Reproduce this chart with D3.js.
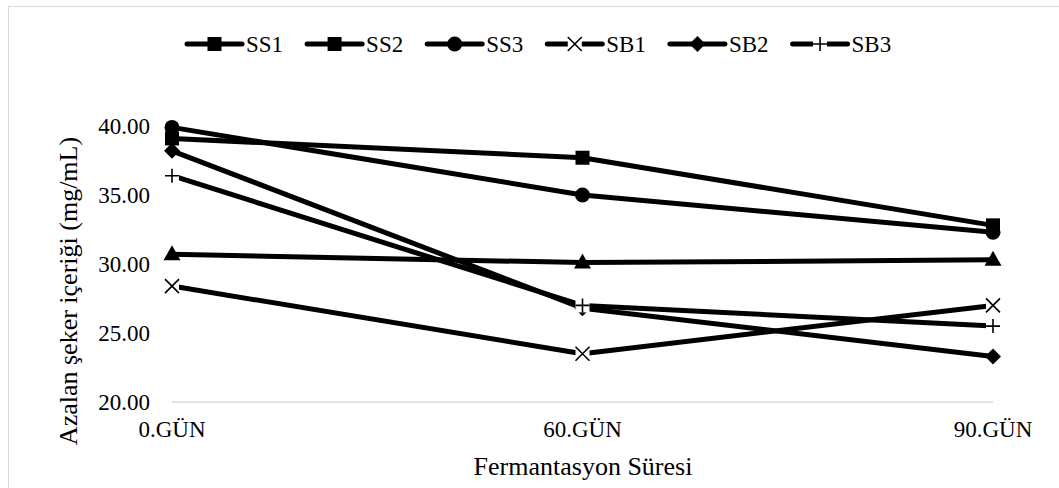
<!DOCTYPE html>
<html>
<head>
<meta charset="utf-8">
<script src="https://cdn.jsdelivr.net/npm/d3@7.9.0/dist/d3.min.js"></script>
<style>
  body { margin: 0; background: #fff; }
  text { font-family: 'Liberation Serif', 'Times New Roman', serif; fill: #000; }
</style>
</head>
<body>
<svg id="chart" width="1059" height="488"></svg>
<script>
const days = ['0.GÜN', '60.GÜN', '90.GÜN'];
const yTicks = [20, 25, 30, 35, 40];

const ss1 = [30.7, 30.1, 30.3];
const ss2 = [39.1, 37.7, 32.8];
const ss3 = [39.9, 35.0, 32.3];
const sb1 = [28.4, 23.5, 27.0];
const sb2 = [38.2, 26.8, 23.3];
const sb3 = [36.4, 27.0, 25.5];

// plot marker and legend marker (SS1 shows a square in the legend, triangles on the line)
const series = [
  { name: 'SS1', values: ss1, marker: 'triangle', legendMarker: 'square' },
  { name: 'SS2', values: ss2, marker: 'square', legendMarker: 'square' },
  { name: 'SS3', values: ss3, marker: 'circle', legendMarker: 'circle' },
  { name: 'SB1', values: sb1, marker: 'x', legendMarker: 'x' },
  { name: 'SB2', values: sb2, marker: 'diamond', legendMarker: 'diamond' },
  { name: 'SB3', values: sb3, marker: 'plus', legendMarker: 'plus' },
];

const svg = d3.select('#chart');

svg.append('rect')
  .attr('x', 8.5).attr('y', 6.5)
  .attr('width', 1070).attr('height', 500)
  .attr('fill', 'none')
  .attr('stroke', '#d9d9d9')
  .attr('stroke-width', 1);

const x = d3.scalePoint().domain(days).range([172, 993]);
const y = d3.scaleLinear().domain([20, 40]).range([402, 126]);

function drawMarker(g, type, cx, cy) {
  if (type === 'square') {
    g.append('rect').attr('x', cx - 7).attr('y', cy - 7)
      .attr('width', 14).attr('height', 14).attr('fill', '#000');
  } else if (type === 'circle') {
    g.append('circle').attr('cx', cx).attr('cy', cy).attr('r', 7.5).attr('fill', '#000');
  } else if (type === 'triangle') {
    g.append('path')
      .attr('d', `M${cx},${cy - 9}L${cx + 8.5},${cy + 6}L${cx - 8.5},${cy + 6}Z`)
      .attr('fill', '#000');
  } else if (type === 'diamond') {
    g.append('path')
      .attr('d', `M${cx},${cy - 8}L${cx + 8},${cy}L${cx},${cy + 8}L${cx - 8},${cy}Z`)
      .attr('fill', '#000');
  } else if (type === 'x' || type === 'plus') {
    g.append('rect').attr('x', cx - 7).attr('y', cy - 7)
      .attr('width', 14).attr('height', 14).attr('fill', '#fff');
    const r = 7;
    const d = type === 'x'
      ? `M${cx - r},${cy - r}L${cx + r},${cy + r}M${cx + r},${cy - r}L${cx - r},${cy + r}`
      : `M${cx - r},${cy}L${cx + r},${cy}M${cx},${cy - r}L${cx},${cy + r}`;
    g.append('path')
      .attr('d', d)
      .attr('stroke', '#000').attr('stroke-width', 1.6).attr('fill', 'none');
  }
}

// bottom axis line
svg.append('line')
  .attr('x1', x(days[0])).attr('x2', x(days[2]))
  .attr('y1', y(20)).attr('y2', y(20))
  .attr('stroke', '#d9d9d9').attr('stroke-width', 1.5);

// y tick labels
svg.append('g').selectAll('text')
  .data(yTicks)
  .join('text')
  .attr('x', 150)
  .attr('y', d => y(d) + 7.5)
  .attr('text-anchor', 'end')
  .attr('font-size', 23)
  .text(d => d.toFixed(2));

// x tick labels
svg.append('g').selectAll('text')
  .data(days)
  .join('text')
  .attr('x', d => x(d))
  .attr('y', 437)
  .attr('text-anchor', 'middle')
  .attr('font-size', 23)
  .text(d => d);

svg.append('text')
  .attr('x', 583).attr('y', 475)
  .attr('text-anchor', 'middle')
  .attr('font-size', 26)
  .text('Fermantasyon Süresi');

svg.append('text')
  .attr('transform', `translate(77,291) rotate(-90)`)
  .attr('text-anchor', 'middle')
  .attr('font-size', 26)
  .text('Azalan şeker içeriği (mg/mL)');

const line = d3.line().x((d, i) => x(days[i])).y(d => y(d));

const plot = svg.append('g');
series.forEach(s => {
  plot.append('path')
    .attr('d', line(s.values))
    .attr('fill', 'none')
    .attr('stroke', '#000')
    .attr('stroke-width', 5)
    .attr('stroke-linejoin', 'round');
});
series.forEach(s => {
  const g = plot.append('g');
  s.values.forEach((v, i) => drawMarker(g, s.marker, x(days[i]), y(v)));
});

// legend
const legend = svg.append('g');
const legendY = 44;
let lx = 187;
series.forEach(s => {
  const g = legend.append('g');
  g.append('line')
    .attr('x1', lx).attr('x2', lx + 55)
    .attr('y1', legendY).attr('y2', legendY)
    .attr('stroke', '#000').attr('stroke-width', 5).attr('stroke-linecap', 'round');
  drawMarker(g, s.legendMarker, lx + 27.5, legendY);
  const t = g.append('text')
    .attr('x', lx + 59).attr('y', legendY + 8)
    .attr('font-size', 23)
    .text(s.name);
  lx += 59 + t.node().getComputedTextLength() + 24;
});
</script>
</body>
</html>
